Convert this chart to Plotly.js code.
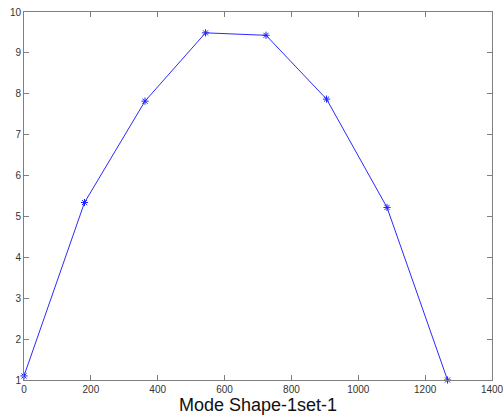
<!DOCTYPE html>
<html><head><meta charset="utf-8">
<script src="https://cdn.plot.ly/plotly-3.0.1.min.js"></script>
<style>html,body{margin:0;padding:0;background:#fff;}#chart{width:503px;height:419px;}</style>
</head><body><div id="chart"></div>
<script>
const xPos = [0, 181, 362, 543, 724, 905, 1086, 1267];
const modeShape = [1.1, 5.34, 7.82, 9.49, 9.43, 7.87, 5.22, 1.0];
const xTicks = [0, 200, 400, 600, 800, 1000, 1200, 1400];
const yTicks = [1, 2, 3, 4, 5, 6, 7, 8, 9, 10];
const xTitle = 'Mode Shape-1set-1';

const trace = {
  x: xPos, y: modeShape, type: 'scatter', mode: 'lines+markers',
  line: {color: '#2a2aff', width: 1},
  marker: {symbol: 'asterisk-open', size: 6, color: '#2020ff', line: {color: '#2020ff', width: 1}},
  cliponaxis: false
};
const axisCommon = {
  showgrid: false, zeroline: false, showline: true, mirror: 'ticks',
  linecolor: '#808080', linewidth: 1, ticks: 'inside', ticklen: 5, tickcolor: '#808080',
  ticklabeloverflow: 'allow',
  tickfont: {family: 'Liberation Sans, Arial, sans-serif', size: 10, color: '#333'}
};
const layout = {
  width: 503, height: 419,
  margin: {l: 24, r: 11, t: 12, b: 39},
  paper_bgcolor: '#fff', plot_bgcolor: '#fff',
  showlegend: false,
  xaxis: Object.assign({}, axisCommon, {range: [0, 1400], tickvals: xTicks, ticktext: xTicks.map(String),
    title: {text: xTitle, font: {family: 'Liberation Sans, Arial, sans-serif', size: 18, color: '#111'}, standoff: 4}}),
  yaxis: Object.assign({}, axisCommon, {range: [1, 10], tickvals: yTicks, ticktext: yTicks.map(String)})
};
Plotly.newPlot('chart', [trace], layout, {displayModeBar: false, staticPlot: true});
</script></body></html>
